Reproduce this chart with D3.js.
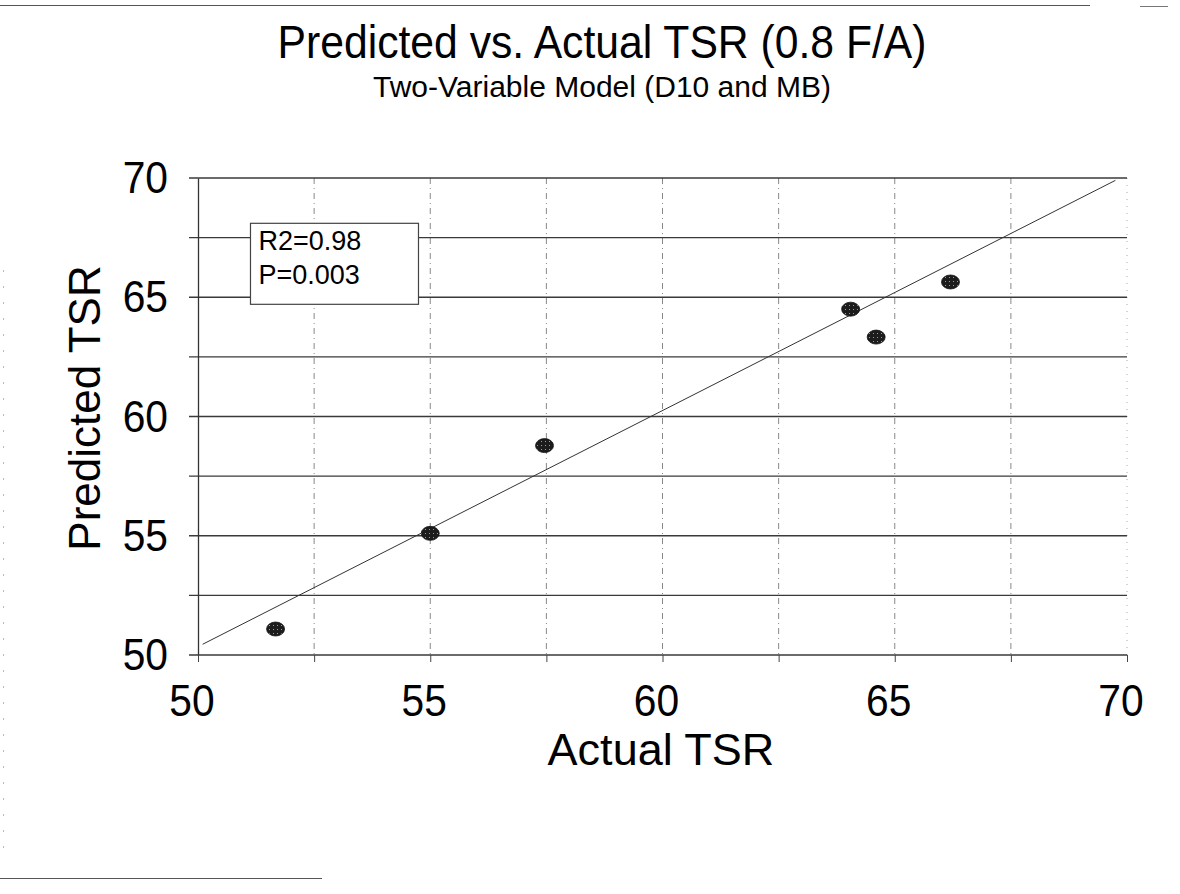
<!DOCTYPE html>
<html>
<head>
<meta charset="utf-8">
<script src="https://cdn.jsdelivr.net/npm/d3@7/dist/d3.min.js"></script>
<style>
  html, body { margin: 0; padding: 0; background: #fff; }
  svg { display: block; font-family: "Liberation Sans", Arial, sans-serif; }
</style>
</head>
<body>
<svg id="chart" width="1180" height="894"></svg>
<script>
// ---- data ----
const actualTSR    = [51.67, 55.0, 57.46, 64.05, 64.6, 66.2];
const predictedTSR = [51.09, 55.1, 58.78, 64.5, 63.33, 65.64];
const fitX = [50.1, 69.75];
const fitY = [50.45, 69.9];
const xTicks = [50, 55, 60, 65, 70];
const yTicks = [50, 55, 60, 65, 70];
const gridSteps = [50, 52.5, 55, 57.5, 60, 62.5, 65, 67.5, 70];
const titleText = "Predicted vs. Actual TSR (0.8 F/A)";
const subtitleText = "Two-Variable Model (D10 and MB)";
const xTitle = "Actual TSR";
const yTitle = "Predicted TSR";
const statLines = ["R2=0.98", "P=0.003"];

const svg = d3.select("#chart");
const plot = { left: 198, right: 1127, top: 178, bottom: 655 };

const x = d3.scaleLinear().domain([50, 70]).range([plot.left, plot.right]);
const y = d3.scaleLinear().domain([50, 70]).range([plot.bottom, plot.top]);

// stipple pattern for markers
const defs = svg.append("defs");
const pat = defs.append("pattern").attr("id", "stip")
  .attr("patternUnits", "userSpaceOnUse").attr("width", 4).attr("height", 4);
pat.append("rect").attr("width", 4).attr("height", 4).attr("fill", "#1c1c1c");
pat.append("rect").attr("x", 1).attr("y", 1).attr("width", 1).attr("height", 1).attr("fill", "#9a9a9a");

// scan border artefacts
svg.append("line").attr("x1", 0).attr("x2", 1090).attr("y1", 5.5).attr("y2", 5.5)
  .attr("stroke", "#555").attr("stroke-width", 1.2);
svg.append("line").attr("x1", 1140).attr("x2", 1168).attr("y1", 6.5).attr("y2", 6.5)
  .attr("stroke", "#777").attr("stroke-width", 1);
svg.append("line").attr("x1", 0).attr("x2", 322).attr("y1", 878.5).attr("y2", 878.5)
  .attr("stroke", "#555").attr("stroke-width", 1.2);
svg.append("line").attr("x1", 3.5).attr("x2", 3.5).attr("y1", 270).attr("y2", 860)
  .attr("stroke", "#bbb").attr("stroke-width", 1).attr("stroke-dasharray", "2,14");

// vertical grid (dashed)
svg.append("g").selectAll("line")
  .data(gridSteps.filter(d => d > 50 && d < 70)).join("line")
  .attr("x1", d => x(d)).attr("x2", d => x(d))
  .attr("y1", plot.top).attr("y2", plot.bottom)
  .attr("stroke", "#888").attr("stroke-width", 1)
  .attr("stroke-dasharray", "6,4,1,4");
// right edge faint
svg.append("line").attr("x1", x(70)).attr("x2", x(70))
  .attr("y1", plot.top).attr("y2", plot.bottom)
  .attr("stroke", "#aaa").attr("stroke-width", 1).attr("stroke-dasharray", "1,6");

// horizontal grid
svg.append("g").selectAll("line")
  .data(gridSteps).join("line")
  .attr("x1", plot.left - 9).attr("x2", x(70))
  .attr("y1", d => y(d)).attr("y2", d => y(d))
  .attr("stroke", "#3a3a3a").attr("stroke-width", 1.3);

// axes (left & bottom) with small tick marks
const yAxis = d3.axisLeft(y).tickValues(gridSteps).tickSize(0).tickFormat("");
svg.append("g").attr("transform", `translate(${plot.left},0)`).call(yAxis)
  .call(g => g.select(".domain").attr("stroke", "#333").attr("stroke-width", 1.3));
const xAxis = d3.axisBottom(x).tickValues(gridSteps).tickSize(7).tickFormat("");
svg.append("g").attr("transform", `translate(0,${plot.bottom})`).call(xAxis)
  .call(g => g.select(".domain").remove())
  .call(g => g.selectAll(".tick line").attr("stroke", "#444"));

// tick labels (slightly tall, as in the scan)
svg.append("g").selectAll("text").data(xTicks).join("text")
  .attr("transform", d => `translate(${x(d) - 6},716) scale(0.97,1.06)`)
  .attr("text-anchor", "middle").attr("font-size", 42).attr("fill", "#000")
  .text(d => d);
svg.append("g").selectAll("text").data(yTicks).join("text")
  .attr("transform", d => `translate(168,${y(d) + 15}) scale(0.97,1.06)`)
  .attr("text-anchor", "end").attr("font-size", 42).attr("fill", "#000")
  .text(d => d);

// regression line
svg.append("line")
  .attr("x1", x(fitX[0])).attr("y1", y(fitY[0]))
  .attr("x2", x(fitX[1])).attr("y2", y(fitY[1]))
  .attr("stroke", "#333").attr("stroke-width", 1);

// stats box
const bx = x(51.13), by = y(68.1);
svg.append("rect").attr("x", bx).attr("y", by).attr("width", 168).attr("height", 81)
  .attr("fill", "#fff").attr("stroke", "#444").attr("stroke-width", 1.2);
svg.append("g").selectAll("text").data(statLines).join("text")
  .attr("x", bx + 8).attr("y", (d, i) => by + 27 + i * 34)
  .attr("font-size", 27).attr("fill", "#000")
  .text(d => d);

// points
svg.append("g").selectAll("ellipse")
  .data(actualTSR.map((a, i) => [a, predictedTSR[i]])).join("ellipse")
  .attr("cx", d => x(d[0])).attr("cy", d => y(d[1]))
  .attr("rx", 9).attr("ry", 7)
  .attr("fill", "url(#stip)").attr("stroke", "#111").attr("stroke-width", 0.8);

// titles
svg.append("text").attr("transform", "translate(602,58) scale(0.97,1.04)").attr("text-anchor", "middle")
  .attr("font-size", 44).attr("fill", "#000").text(titleText);
svg.append("text").attr("x", 602).attr("y", 97).attr("text-anchor", "middle")
  .attr("font-size", 30).attr("fill", "#000").text(subtitleText);
svg.append("text").attr("x", 661).attr("y", 765).attr("text-anchor", "middle")
  .attr("font-size", 45).attr("fill", "#000").text(xTitle);
svg.append("text").attr("transform", "translate(100,408) rotate(-90)")
  .attr("text-anchor", "middle").attr("font-size", 44).attr("fill", "#000").text(yTitle);
</script>
</body>
</html>
